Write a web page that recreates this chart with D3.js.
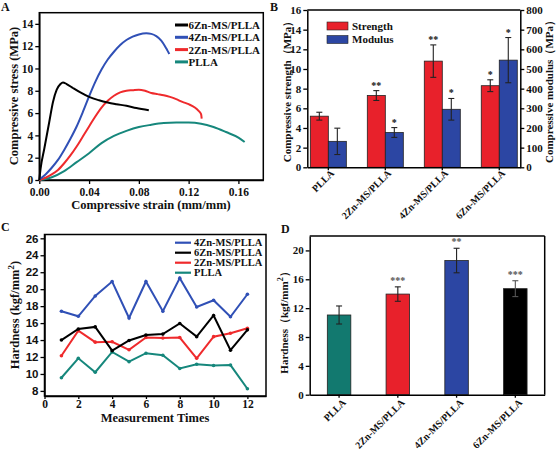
<!DOCTYPE html>
<html><head><meta charset="utf-8">
<script src="https://cdn.jsdelivr.net/npm/d3@7"></script>
<style>
body{margin:0;background:#fff}
svg text{font-family:"Liberation Serif","Times New Roman",serif;font-weight:bold;fill:#111}
</style>
</head><body>
<svg id="fig" width="558" height="455"></svg>
<script>
// ---------- Panel A : stress-strain curves ----------
const aSeries = ["6Zn-MS/PLLA","4Zn-MS/PLLA","2Zn-MS/PLLA","PLLA"];
const aCurve6Zn = [[0,0],[0.001,1.0],[0.004,2.8],[0.008,5.2],[0.011,7.0],[0.014,8.1],[0.017,8.6],[0.019,8.75],[0.022,8.6],[0.027,8.25],[0.033,7.85],[0.04,7.45],[0.048,7.15],[0.055,6.95],[0.062,6.8],[0.07,6.65],[0.078,6.45],[0.088,6.25]];
const aCurve4Zn = [[0,0.05],[0.005,0.5],[0.01,1.1],[0.015,1.8],[0.02,2.7],[0.025,3.7],[0.03,4.8],[0.035,6.1],[0.04,7.5],[0.045,8.8],[0.05,9.9],[0.055,10.8],[0.06,11.5],[0.065,12.1],[0.07,12.55],[0.075,12.85],[0.08,13.05],[0.086,13.15],[0.09,13.1],[0.094,12.9],[0.098,12.5],[0.101,12.0],[0.103,11.6],[0.1045,11.3]];
const aCurve2Zn = [[0,0],[0.005,0.2],[0.01,0.5],[0.015,0.9],[0.02,1.5],[0.025,2.2],[0.03,3.0],[0.035,3.9],[0.04,4.8],[0.045,5.7],[0.05,6.5],[0.055,7.1],[0.06,7.55],[0.065,7.85],[0.07,8.0],[0.075,8.05],[0.08,8.1],[0.085,8.0],[0.09,7.8],[0.095,7.7],[0.1,7.6],[0.105,7.45],[0.11,7.25],[0.115,7.0],[0.12,6.8],[0.125,6.5],[0.128,6.2],[0.13,5.9],[0.1305,5.5]];
const aCurvePLLA = [[0,0],[0.01,0.25],[0.02,0.8],[0.03,1.6],[0.04,2.4],[0.05,3.3],[0.06,3.95],[0.07,4.4],[0.08,4.75],[0.09,4.95],[0.1,5.1],[0.11,5.15],[0.12,5.15],[0.13,5.05],[0.14,4.75],[0.15,4.3],[0.16,3.8],[0.165,3.4]];
const aXTicks = [0,0.04,0.08,0.12,0.16];
const aYTicks = [0,2,4,6,8,10,12,14];

// ---------- Panel B : compressive strength / modulus ----------
const bCategories = ["PLLA","2Zn-MS/PLLA","4Zn-MS/PLLA","6Zn-MS/PLLA"];
const bStrength = [5.2,7.3,10.8,8.3];
const bStrengthErr = [0.4,0.5,1.65,0.6];
const bStrengthSig = ["","**","**","*"];
const bModulus = [132,177,295,545];
const bModulusErr = [67,25,55,115];
const bModulusSig = ["","*","*","*"];
const bLeftTicks = [0,2,4,6,8,10,12,14,16];
const bRightTicks = [0,100,200,300,400,500,600,700,800];

// ---------- Panel C : hardness per measurement ----------
const cTimes = [1,2,3,4,5,6,7,8,9,10,11,12];
const cSeries = ["4Zn-MS/PLLA","6Zn-MS/PLLA","2Zn-MS/PLLA","PLLA"];
const c4Zn = [17.4,16.8,19.2,20.9,16.6,20.9,17.4,21.3,17.9,18.7,16.75,19.4];
const c6Zn = [14.0,15.3,15.55,12.75,13.95,14.6,14.7,15.95,14.4,16.9,12.8,15.2];
const c2Zn = [12.15,15.1,13.75,13.8,12.85,14.3,14.25,14.3,11.85,14.4,14.8,15.4];
const cPLLA = [9.55,11.85,10.2,12.6,11.45,12.45,12.2,10.65,11.15,11.0,11.05,8.25];
const cXTicks = [0,2,4,6,8,10,12];
const cYTicks = [8,10,12,14,16,18,20,22,24,26];

// ---------- Panel D : mean hardness ----------
const dCategories = ["PLLA","2Zn-MS/PLLA","4Zn-MS/PLLA","6Zn-MS/PLLA"];
const dHardness = [11.05,13.95,18.6,14.7];
const dHardnessErr = [1.25,1.0,1.7,1.1];
const dSig = ["","***","**","***"];
const dYTicks = [0,4,8,12,16,20];

// colours
const colBlack = "#000000", colBlue = "#3050b6", colRed = "#ef2a2c", colTeal = "#16877c";
const barRed = "#e8212b", barBlue = "#2c46a3", barTeal = "#12796f";

const svg = d3.select("#fig");
const SERIF = '"Liberation Serif","Times New Roman",serif';
const SANS = '"Liberation Sans",Arial,sans-serif';

function styleAxis(g, fs, font){
  g.selectAll("path.domain").attr("stroke","#000").attr("stroke-width",1.5);
  g.selectAll(".tick line").attr("stroke","#000").attr("stroke-width",1.3);
  g.selectAll(".tick text").attr("font-size",fs).style("font-family",font||SERIF).style("font-weight","bold").attr("fill","#111");
}
function frame(x0,y0,x1,y1){
  svg.append("rect").attr("x",x0).attr("y",y0).attr("width",x1-x0).attr("height",y1-y0)
    .attr("fill","none").attr("stroke","#000").attr("stroke-width",1.5);
}
function label(t,x,y){ svg.append("text").attr("x",x).attr("y",y).attr("font-size",12).attr("fill","#333").text(t); }

// ================= Panel A =================
{
  const x = d3.scaleLinear().domain([0,0.18]).range([39.3,263.3]);
  const y = d3.scaleLinear().domain([0,15]).range([180,12.7]);
  svg.append("g").attr("transform","translate(0,180)")
    .call(d3.axisBottom(x).tickValues(aXTicks).tickFormat(d3.format(".2f")).tickSize(4).tickSizeOuter(0).tickPadding(3.5))
    .call(g=>styleAxis(g,11.5));
  svg.append("g").attr("transform","translate(39.3,0)")
    .call(d3.axisLeft(y).tickValues(aYTicks).tickSize(4).tickSizeOuter(0).tickPadding(2))
    .call(g=>styleAxis(g,11.5));
  frame(39.3,12.7,263.3,180);
  const line = d3.line().x(d=>x(d[0])).y(d=>y(d[1])).curve(d3.curveMonotoneX);
  const curves = [aCurvePLLA,aCurve2Zn,aCurve4Zn,aCurve6Zn];
  const cols = [colTeal,colRed,colBlue,colBlack];
  curves.forEach((c,i)=>svg.append("path").attr("d",line(c)).attr("fill","none").attr("stroke",cols[i]).attr("stroke-width",2));
  const legCols = [colBlack,colBlue,colRed,colTeal];
  aSeries.forEach((s,i)=>{
    const yy = 25 + i*12.3;
    svg.append("line").attr("x1",175).attr("x2",188).attr("y1",yy).attr("y2",yy).attr("stroke",legCols[i]).attr("stroke-width",3);
    svg.append("text").attr("x",188.5).attr("y",yy+4).attr("font-size",11).text(s);
  });
  svg.append("text").attr("x",151).attr("y",209).attr("text-anchor","middle").attr("font-size",12.5).text("Compressive strain (mm/mm)");
  svg.append("text").attr("transform","translate(18,96) rotate(-90)").attr("text-anchor","middle").attr("font-size",12.5).text("Compressive stress (MPa)");
  label("A",1,10.5);
}

// ================= Panel B =================
{
  const x = d3.scaleBand().domain(bCategories).range([307.3,520.3]).paddingInner(0.368).paddingOuter(0.053);
  const yl = d3.scaleLinear().domain([0,16]).range([167.3,10]);
  const yr = d3.scaleLinear().domain([0,800]).range([167.3,10]);
  const bw = x.bandwidth()/2;
  bCategories.forEach((c,i)=>{
    const x0 = x(c);
    svg.append("rect").attr("x",x0).attr("y",yl(bStrength[i])).attr("width",bw).attr("height",yl(0)-yl(bStrength[i]))
      .attr("fill",barRed).attr("stroke","#222").attr("stroke-width",0.8);
    svg.append("rect").attr("x",x0+bw).attr("y",yr(bModulus[i])).attr("width",bw).attr("height",yr(0)-yr(bModulus[i]))
      .attr("fill",barBlue).attr("stroke","#222").attr("stroke-width",0.8);
    const eb = (cx,top,bot)=>{
      svg.append("line").attr("x1",cx).attr("x2",cx).attr("y1",top).attr("y2",bot).attr("stroke","#222").attr("stroke-width",1.1);
      svg.append("line").attr("x1",cx-3).attr("x2",cx+3).attr("y1",top).attr("y2",top).attr("stroke","#222").attr("stroke-width",1.1);
      svg.append("line").attr("x1",cx-3).attr("x2",cx+3).attr("y1",bot).attr("y2",bot).attr("stroke","#222").attr("stroke-width",1.1);
    };
    const cr = x0+bw/2, cb = x0+bw*1.5;
    eb(cr, yl(bStrength[i]+bStrengthErr[i]), yl(bStrength[i]-bStrengthErr[i]));
    eb(cb, yr(bModulus[i]+bModulusErr[i]), yr(bModulus[i]-bModulusErr[i]));
    if(bStrengthSig[i]) svg.append("text").attr("x",cr).attr("y",yl(bStrength[i]+bStrengthErr[i])-2).attr("text-anchor","middle").attr("font-size",10).text(bStrengthSig[i]);
    if(bModulusSig[i]) svg.append("text").attr("x",cb).attr("y",yr(bModulus[i]+bModulusErr[i])-2).attr("text-anchor","middle").attr("font-size",10).text(bModulusSig[i]);
  });
  svg.append("g").attr("transform","translate(307.3,0)")
    .call(d3.axisLeft(yl).tickValues(bLeftTicks).tickSize(4).tickSizeOuter(0).tickPadding(2))
    .call(g=>styleAxis(g,11));
  svg.append("g").attr("transform","translate(520.3,0)")
    .call(d3.axisRight(yr).tickValues(bRightTicks).tickSize(4).tickSizeOuter(0).tickPadding(2))
    .call(g=>styleAxis(g,11));
  const gx = svg.append("g").attr("transform","translate(0,167.3)")
    .call(d3.axisBottom(x).tickSize(3).tickSizeOuter(0).tickPadding(2))
    .call(g=>styleAxis(g,10));
  gx.selectAll(".tick text").attr("text-anchor","end").attr("transform","translate(4,4) rotate(-45)").attr("dy","0.35em").attr("y",0).attr("x",0);
  svg.append("line").attr("x1",307.3).attr("x2",520.3).attr("y1",10).attr("y2",10).attr("stroke","#000").attr("stroke-width",1.5);
  [["Strength",barRed],["Modulus",barBlue]].forEach((d,i)=>{
    const yy = 22 + i*13.5;
    svg.append("rect").attr("x",327).attr("y",yy).attr("width",21).attr("height",8).attr("fill",d[1]).attr("stroke","#222").attr("stroke-width",0.6);
    svg.append("text").attr("x",352).attr("y",yy+7.5).attr("font-size",11).text(d[0]);
  });
  svg.append("text").attr("transform","translate(291,89) rotate(-90)").attr("text-anchor","middle").attr("font-size",11).text("Compressive strength（MPa）");
  svg.append("text").attr("transform","translate(553,89) rotate(-90)").attr("text-anchor","middle").attr("font-size",11).text("Compressive modulus（MPa）");
  label("B",270,10.5);
}

// ================= Panel C =================
{
  const x = d3.scaleLinear().domain([0,13.1]).range([44.5,266]);
  const y = d3.scaleLinear().domain([7.4,26.45]).range([396,234.5]);
  svg.append("g").attr("transform","translate(0,396)")
    .call(d3.axisBottom(x).tickValues(cXTicks).tickSize(3).tickSizeOuter(0).tickPadding(1))
    .call(g=>styleAxis(g,11.5));
  svg.append("g").attr("transform","translate(44.5,0)")
    .call(d3.axisLeft(y).tickValues(cYTicks).tickSize(4).tickSizeOuter(0).tickPadding(2))
    .call(g=>styleAxis(g,11.5,SANS));
  frame(44.5,234.5,266,396);
  const data = [cPLLA,c2Zn,c6Zn,c4Zn];
  const cols = [colTeal,colRed,colBlack,colBlue];
  const line = d3.line().x((d,i)=>x(cTimes[i])).y(d=>y(d));
  data.forEach((s,k)=>{
    svg.append("path").attr("d",line(s)).attr("fill","none").attr("stroke",cols[k]).attr("stroke-width",2);
    svg.append("g").selectAll("circle").data(s).join("circle")
      .attr("cx",(d,i)=>x(cTimes[i])).attr("cy",d=>y(d)).attr("r",1.8).attr("fill",cols[k]);
  });
  const legCols = [colBlue,colBlack,colRed,colTeal];
  cSeries.forEach((s,i)=>{
    const yy = 242.7 + i*10;
    svg.append("line").attr("x1",175).attr("x2",191).attr("y1",yy).attr("y2",yy).attr("stroke",legCols[i]).attr("stroke-width",2.2);
    svg.append("text").attr("x",194).attr("y",yy+3.5).attr("font-size",10.5).text(s);
  });
  svg.append("text").attr("x",155).attr("y",422).attr("text-anchor","middle").attr("font-size",12.5).text("Measurement Times");
  const t = svg.append("text").attr("transform","translate(19,315) rotate(-90)").attr("text-anchor","middle").attr("font-size",12.5);
  t.append("tspan").text("Hardness (kgf/mm");
  t.append("tspan").attr("dy",-5).attr("font-size",9).text("2");
  t.append("tspan").attr("dy",5).text(")");
  label("C",1,231);
}

// ================= Panel D =================
{
  const x = d3.scaleBand().domain(dCategories).range([309.7,544.7]).paddingInner(0.6).paddingOuter(0.3);
  const y = d3.scaleLinear().domain([0,22]).range([394.7,236]);
  const cols = [barTeal,barRed,barBlue,"#000"];
  dCategories.forEach((c,i)=>{
    svg.append("rect").attr("x",x(c)).attr("y",y(dHardness[i])).attr("width",x.bandwidth()).attr("height",y(0)-y(dHardness[i]))
      .attr("fill",cols[i]).attr("stroke","#222").attr("stroke-width",0.8);
    const cx = x(c)+x.bandwidth()/2, top = y(dHardness[i]+dHardnessErr[i]), bot = y(dHardness[i]-dHardnessErr[i]);
    const ec = i===3 ? "#555" : "#222";
    svg.append("line").attr("x1",cx).attr("x2",cx).attr("y1",top).attr("y2",bot).attr("stroke",ec).attr("stroke-width",1.1);
    [top,bot].forEach(v=>svg.append("line").attr("x1",cx-3).attr("x2",cx+3).attr("y1",v).attr("y2",v).attr("stroke",ec).attr("stroke-width",1.1));
    if(dSig[i]) svg.append("text").attr("x",cx).attr("y",top-3).attr("text-anchor","middle").attr("font-size",10).style("fill","#555").text(dSig[i]);
  });
  svg.append("g").attr("transform","translate(309.7,0)")
    .call(d3.axisLeft(y).tickValues(dYTicks).tickSize(4).tickSizeOuter(0).tickPadding(2))
    .call(g=>styleAxis(g,11));
  const gx = svg.append("g").attr("transform","translate(0,394.7)")
    .call(d3.axisBottom(x).tickSize(3).tickSizeOuter(0).tickPadding(2))
    .call(g=>styleAxis(g,10));
  gx.selectAll(".tick text").attr("text-anchor","end").attr("transform","translate(5,6) rotate(-45)").attr("dy","0.35em").attr("y",0).attr("x",0);
  svg.append("line").attr("x1",309.7).attr("x2",544.7).attr("y1",236).attr("y2",236).attr("stroke","#000").attr("stroke-width",1.5);
  svg.append("line").attr("x1",544.7).attr("x2",544.7).attr("y1",236).attr("y2",394.7).attr("stroke","#000").attr("stroke-width",1.5);
  const t = svg.append("text").attr("transform","translate(288,320) rotate(-90)").attr("text-anchor","middle").attr("font-size",11);
  t.append("tspan").text("Hardness（kgf/mm");
  t.append("tspan").attr("dy",-5).attr("font-size",8).text("2");
  t.append("tspan").attr("dy",5).text("）");
  label("D",281,233);
}
</script>
</body></html>
